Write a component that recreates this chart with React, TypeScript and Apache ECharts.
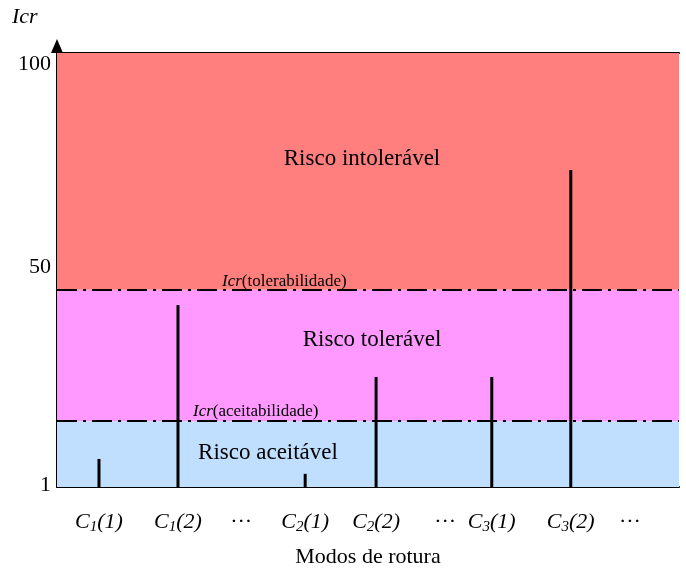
import React, { useEffect, useRef } from "react";
import * as echarts from "echarts";

// x positions on a 0..100 horizontal scale
const labelPositions = [6.75, 19.45, 29.6, 39.9, 51.3, 62.4, 69.9, 82.6, 92.1];
const labelTexts = ["C1(1)", "C1(2)", "···", "C2(1)", "C2(2)", "···", "C3(1)", "C3(2)", "···"];

const barPositions = [6.75, 19.45, 39.9, 51.3, 69.9, 82.6];
const barValues = [7.4, 42.5, 4, 26.1, 26.1, 73.3];

const yTicks = [1, 50, 100];
const acceptability = 16;
const tolerability = 46;
const yMin = 1;
const yMax = 100;

const FONT = '"Liberation Serif", "Times New Roman", serif';

function toRich(t: string): string {
  const m = t.match(/^C(\d)\((\d)\)$/);
  if (!m) return "{d|" + t + "}";
  return "{c|C}{s|" + m[1] + "}{c|(" + m[2] + ")}";
}

export default function App() {
  const ref = useRef<HTMLDivElement>(null);
  useEffect(() => {
    if (!ref.current) return;
    const chart = echarts.init(ref.current, null, { renderer: "svg" });
    const dash = [20, 6, 3, 6];
    chart.setOption({
      animation: false,
      textStyle: { fontFamily: FONT, color: "#000" },
      grid: { left: 57, right: 7, top: 53, bottom: 85 },
      xAxis: [
        {
          type: "value",
          min: 0,
          max: 100,
          axisLine: { show: true, lineStyle: { color: "#000", width: 2 } },
          axisTick: { show: false },
          splitLine: { show: false },
          axisLabel: {
            customValues: labelPositions,
            margin: 20,
            color: "#000",
            fontFamily: FONT,
            formatter: (v: number) => {
              let best = 0;
              labelPositions.forEach((p, i) => {
                if (Math.abs(p - v) < Math.abs(labelPositions[best] - v)) best = i;
              });
              return toRich(labelTexts[best]);
            },
            rich: {
              c: { fontStyle: "italic", fontSize: 22, fontFamily: FONT, color: "#000", lineHeight: 26 },
              s: { fontStyle: "italic", fontSize: 15, fontFamily: FONT, color: "#000", lineHeight: 15, verticalAlign: "bottom" },
              d: { fontSize: 22, fontFamily: FONT, color: "#000", lineHeight: 26 },
            },
          },
        },
        {
          type: "value",
          position: "top",
          min: 0,
          max: 1,
          axisLine: { show: true, lineStyle: { color: "#000", width: 2 } },
          axisTick: { show: false },
          axisLabel: { show: false },
          splitLine: { show: false },
        },
      ],
      yAxis: {
        type: "value",
        min: yMin,
        max: yMax,
        axisLine: { show: true, lineStyle: { color: "#000", width: 2 } },
        axisTick: { show: false },
        splitLine: { show: false },
        axisLabel: {
          customValues: yTicks,
          color: "#000",
          fontFamily: FONT,
          margin: 6,
          formatter: (v: number) => "{t" + v + "|" + v + "}",
          rich: {
            t1: { fontSize: 22, fontFamily: FONT, color: "#000", padding: [0, 0, 8, 0] },
            t50: { fontSize: 22, fontFamily: FONT, color: "#000", padding: [0, 0, 14, 0] },
            t100: { fontSize: 22, fontFamily: FONT, color: "#000", padding: [18, 0, 0, 0] },
          },
        },
      },
      graphic: [
        { type: "polygon", z: 20, shape: { points: [[51, 53], [63, 53], [57, 39]] }, style: { fill: "#000" } },
        { type: "text", left: 12, top: 4, style: { text: "Icr", font: 'italic 22px "Liberation Serif", serif', fill: "#000" } },
        { type: "text", x: 368, y: 555, style: { text: "Modos de rotura", font: '22px "Liberation Serif", serif', fill: "#000", align: "center", verticalAlign: "middle" } },
        { type: "text", x: 362, y: 157, z: 10, style: { text: "Risco intolerável", font: '23px "Liberation Serif", serif', fill: "#000", align: "center", verticalAlign: "middle" } },
        { type: "text", x: 372, y: 338, z: 10, style: { text: "Risco tolerável", font: '23px "Liberation Serif", serif', fill: "#000", align: "center", verticalAlign: "middle" } },
        { type: "text", x: 268, y: 451, z: 10, style: { text: "Risco aceitável", font: '23px "Liberation Serif", serif', fill: "#000", align: "center", verticalAlign: "middle" } },
        {
          type: "text", x: 222, y: 280, z: 10,
          style: {
            text: "{i|Icr}{n|(tolerabilidade)}",
            verticalAlign: "middle",
            rich: {
              i: { font: 'italic 17px "Liberation Serif", serif', fill: "#000" },
              n: { font: '17px "Liberation Serif", serif', fill: "#000" },
            },
          },
        },
        {
          type: "text", x: 193, y: 410, z: 10,
          style: {
            text: "{i|Icr}{n|(aceitabilidade)}",
            verticalAlign: "middle",
            rich: {
              i: { font: 'italic 17px "Liberation Serif", serif', fill: "#000" },
              n: { font: '17px "Liberation Serif", serif', fill: "#000" },
            },
          },
        },
      ],
      series: [
        {
          type: "custom",
          z: 3,
          data: barPositions.map((x, i) => [x, barValues[i]]),
          renderItem: (params: any, api: any) => {
            const p0 = api.coord([api.value(0), yMin]);
            const p1 = api.coord([api.value(0), api.value(1)]);
            return {
              type: "line",
              shape: { x1: p0[0], y1: p0[1], x2: p1[0], y2: p1[1] },
              style: { stroke: "#000", lineWidth: 3 },
            };
          },
          markArea: {
            silent: true,
            z: 1,
            data: [
              [{ yAxis: yMin, itemStyle: { color: "#C0DFFF" } }, { yAxis: acceptability }],
              [{ yAxis: acceptability, itemStyle: { color: "#FF99FF" } }, { yAxis: tolerability }],
              [{ yAxis: tolerability, itemStyle: { color: "#FF7F7F" } }, { yAxis: yMax }],
            ],
          },
          markLine: {
            silent: true,
            symbol: "none",
            label: { show: false },
            lineStyle: { color: "#000", width: 2, type: dash },
            data: [{ yAxis: acceptability }, { yAxis: tolerability }],
          },
        },
      ],
    });
    return () => chart.dispose();
  }, []);
  return <div ref={ref} style={{ position: "fixed", left: 0, top: 0, width: 686, height: 572 }} />;
}
